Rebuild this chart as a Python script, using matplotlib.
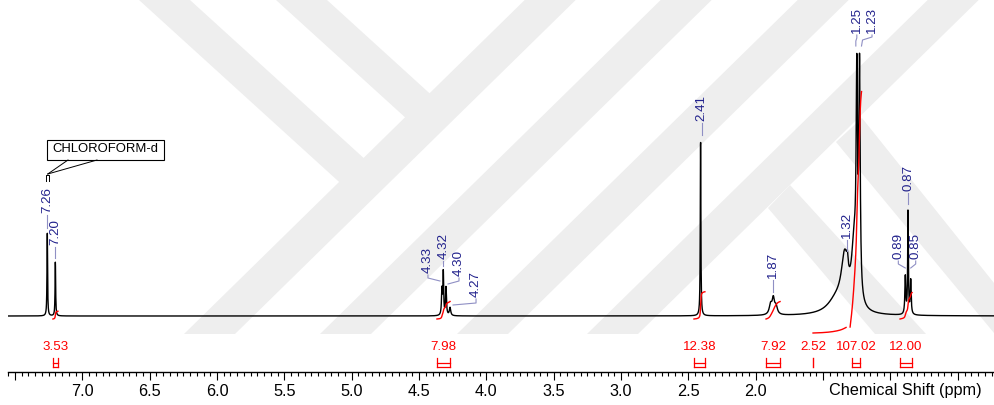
import numpy as np
import matplotlib
matplotlib.use("Agg")
import matplotlib.pyplot as plt
from matplotlib.patches import Polygon, Rectangle

plt.rcParams['font.family'] = ['Liberation Sans', 'DejaVu Sans']

# ---------------- data ----------------
# resolved lines (ppm, intensity, half width)
peak_ppm    = [7.26, 7.20, 4.33, 4.32, 4.30, 4.27, 2.41, 1.89, 1.87, 1.85,
               1.40, 1.34, 1.32, 1.27, 1.25, 1.23, 0.89, 0.87, 0.85]
peak_height = [84,   54,   26,   42,   28,   8,    178,  10,   15,   8,
               14,   50,   12,   60,   203,  226,  38,   104,  34]
peak_hwhm   = [0.0025, 0.0025, 0.004, 0.003, 0.004, 0.006, 0.0025, 0.012, 0.010, 0.012,
               0.08, 0.03, 0.006, 0.022, 0.006, 0.006, 0.004, 0.003, 0.004]

label_ppm  = [7.26, 7.20, 4.33, 4.32, 4.30, 4.27, 2.41, 1.87, 1.32, 1.25, 1.23, 0.89, 0.87, 0.85]
label_text = ['7.26', '7.20', '4.33', '4.32', '4.30', '4.27', '2.41', '1.87', '1.32', '1.25', '1.23', '0.89', '0.87', '0.85']

integral_value = [3.53, 7.98, 12.38, 7.92, 2.52, 107.02, 12.00]
integral_from  = [7.218, 4.367, 2.459, 1.924, 1.575, 1.300, 0.929]
integral_to    = [7.181, 4.270, 2.378, 1.820, 1.330, 1.215, 0.840]
bracket_from   = [7.218, 4.367, 2.459, 1.924, 1.575, 1.286, 0.929]
bracket_to     = [7.181, 4.270, 2.378, 1.820, 1.575, 1.226, 0.840]

tick_values = [7.0, 6.5, 6.0, 5.5, 5.0, 4.5, 4.0, 3.5, 3.0, 2.5, 2.0]
tick_labels = ['7.0', '6.5', '6.0', '5.5', '5.0', '4.5', '4.0', '3.5', '3.0', '2.5', '2.0']

solvent_ppm = 7.26
solvent_name = 'CHLOROFORM-d'
x_title = 'Chemical Shift (ppm)'

# ---------------- layout helpers ----------------
W, H = 994, 405
A, B = 1025.2, 134.7          # pixel x = A - B*ppm
BASE = 316                    # baseline pixel row
def ppm_px(px):
    return (A - px) / B
def ypx(py):
    return BASE - py
def pxp(ppm):
    return A - B * ppm

fig = plt.figure(figsize=(W / 100, H / 100), dpi=100)

# watermark background (pixel coordinates)
bg = fig.add_axes([0, 0, 1, 1], zorder=0)
bg.set_xlim(0, W)
bg.set_ylim(H, 0)
bg.axis('off')
wm = '#eeeeee'
s = 1.02
ybot = 334
for xl in [184, 320, 457, 587]:
    xr = xl + 51
    bg.add_patch(Polygon([(xl, ybot), (xr, ybot), (xr + s * ybot, 0), (xl + s * ybot, 0)],
                         closed=True, fc=wm, ec='none'))
for poly in [[(139, 0), (190, 0), (364, 158.3), (339.6, 182.4)],
             [(276, 0), (327, 0), (430, 93.7), (405.6, 117.8)],
             [(768, 208), (790, 185), (926, ybot), (875, ybot)],
             [(836, 142), (862, 118), (994, 283), (994, 333)]]:
    bg.add_patch(Polygon(poly, closed=True, fc=wm, ec='none'))

# main axes
ax = fig.add_axes([8 / W, (H - 372) / H, (994 - 8) / W, 372 / H], zorder=1)
ax.patch.set_alpha(0)
ax.set_xlim(ppm_px(8), ppm_px(994))
ax.set_ylim(ypx(372), ypx(0))
for sp in ['top', 'right', 'left']:
    ax.spines[sp].set_visible(False)
ax.spines['bottom'].set_linewidth(1.0)
ax.set_yticks([])

major = np.arange(7.5, 0.24, -0.5)
ax.set_xticks(major)
ax.set_xticklabels([tick_labels[tick_values.index(round(m, 1))] if round(m, 1) in tick_values else '' for m in major])
ax.set_xticks(np.arange(7.55, 0.23, -0.05), minor=True)
ax.tick_params(axis='x', which='major', direction='out', length=6, width=0.8, labelsize=11.7, pad=2.5)
ax.tick_params(axis='x', which='minor', direction='out', length=3, width=0.8)

# spectrum
x = np.linspace(ppm_px(8), ppm_px(994), 8000)
def spectrum(xx):
    yy = np.zeros_like(xx)
    for p, h, w in zip(peak_ppm, peak_height, peak_hwhm):
        yy += h / (1 + ((xx - p) / w) ** 2)
    return yy
ax.plot(x, spectrum(x), color='black', lw=1.0, zorder=3)

# integrals
k = 2.2
red = '#ff0000'
int_offset = [-3, -3, -3, -3, -17, -11, -3]
for v, a, b, off, ba, bb in zip(integral_value, integral_from, integral_to, int_offset, bracket_from, bracket_to):
    xi = np.linspace(a, b, 300)
    yi = spectrum(xi)
    c = np.concatenate([[0], np.cumsum((yi[1:] + yi[:-1]) / 2)])
    c = c / c[-1]
    ax.plot(xi, off + c * v * k, color=red, lw=1.0, zorder=4)
    # bracket
    if abs(pxp(ba) - pxp(bb)) < 1:
        ax.plot([ba, ba], [ypx(358), ypx(367)], color=red, lw=1.0)
    else:
        ax.plot([ba, ba], [ypx(358), ypx(367)], color=red, lw=0.9)
        ax.plot([bb, bb], [ypx(358), ypx(367)], color=red, lw=0.9)
        ax.plot([ba, bb], [ypx(363), ypx(363)], color=red, lw=0.9)
        ax.plot([ba, bb], [ypx(367), ypx(367)], color=red, lw=0.9)
    ax.text((ba + bb) / 2, ypx(347), f'{v:.2f}', color=red, fontsize=9.6,
            ha='center', va='center')

# peak labels
blue = '#22228c'
lead = '#8f8fc4'
lab_layout = {
    '7.26': (0, 213, [(0, 215), (0, 228)]),
    '7.20': (0, 245, [(0, 247), (0, 258)]),
    '4.33': (-14, 273, [(-14, 275), (-14, 278), (-2, 281)]),
    '4.32': (0, 259, [(0, 261), (0, 266)]),
    '4.30': (13, 276, [(13, 278), (13, 281), (2, 284)]),
    '4.27': (26, 297, [(26, 299), (26, 303), (3, 305)]),
    '2.41': (1, 121, [(1, 123), (1, 135)]),
    '1.87': (0, 278, [(0, 280), (0, 292)]),
    '1.32': (0, 238, [(0, 240), (0, 251)]),
    '1.25': (0, 33, [(0, 35), (0, 38), (-1, 41), (-1, 46)]),
    '1.23': (12.5, 33, [(12.5, 35), (12.5, 37), (3, 40), (2, 46)]),
    '0.89': (-7, 259, [(-7, 261), (-7, 264), (0, 268)]),
    '0.87': (0, 191, [(0, 193), (0, 204)]),
    '0.85': (5, 259, [(5, 261), (5, 264), (0, 268)]),
}
for p, t in zip(label_ppm, label_text):
    dx, bot, path = lab_layout[t]
    px0 = pxp(p)
    ax.text(ppm_px(px0 + dx), ypx(bot), t, rotation=90, color=blue, fontsize=9.6,
            ha='center', va='bottom', zorder=5)
    ax.plot([ppm_px(px0 + q[0]) for q in path], [ypx(q[1]) for q in path],
            color=lead, lw=0.8, zorder=5)

# solvent annotation
sx = pxp(solvent_ppm)
ax.add_patch(Rectangle((ppm_px(47), ypx(160)), ppm_px(164) - ppm_px(47), 20,
                       fc='white', ec='black', lw=0.8, zorder=5))
ax.text(ppm_px(105.5), ypx(149.5), solvent_name, fontsize=9.4, ha='center', va='center',
        color='black', zorder=6)
ax.plot([ppm_px(68), ppm_px(sx + 0.5)], [ypx(160), ypx(174)], color='black', lw=0.7, zorder=5)
ax.plot([ppm_px(97), ppm_px(sx + 0.5)], [ypx(160), ypx(174)], color='black', lw=0.7, zorder=5)
ax.plot([ppm_px(sx - 1), ppm_px(sx - 1), ppm_px(sx + 2), ppm_px(sx + 2)],
        [ypx(181), ypx(175), ypx(175), ypx(181)], color='black', lw=0.7, zorder=5)

# axis title at the right end of the tick-label row
ax.text(ppm_px(905), ypx(390), x_title, fontsize=11.7, ha='center', va='center')

fig.savefig('out.png', dpi=100)
